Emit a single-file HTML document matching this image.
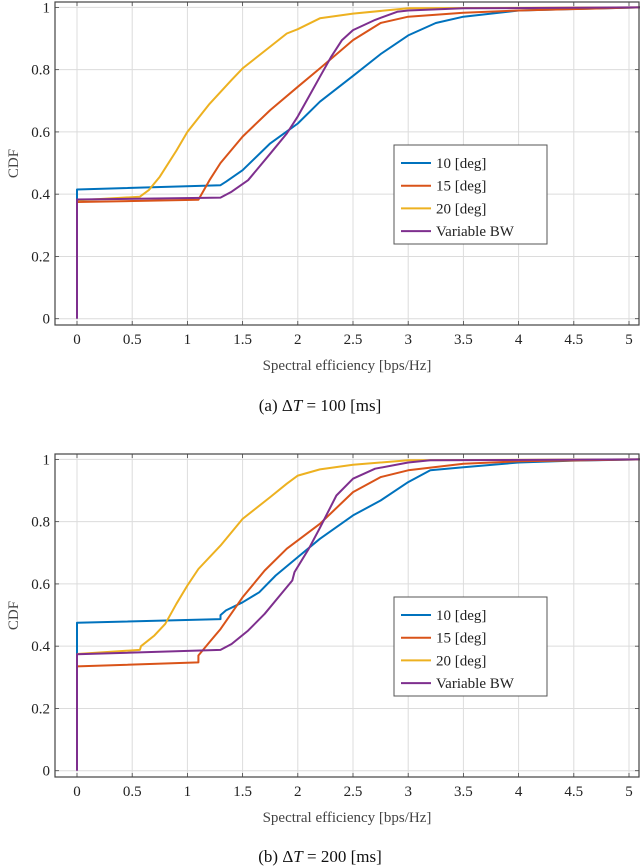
<!DOCTYPE html>
<html><head><meta charset="utf-8"><style>
html,body{margin:0;padding:0;background:#fff;}
svg{display:block;font-family:"Liberation Serif",serif;}
</style></head><body>
<svg id="fig" width="640" height="868" viewBox="0 0 640 868"></svg>
<script>
const xTicks=[0,0.5,1,1.5,2,2.5,3,3.5,4,4.5,5];
const xTickLabels=["0","0.5","1","1.5","2","2.5","3","3.5","4","4.5","5"];
const yTicks=[0,0.2,0.4,0.6,0.8,1];
const yTickLabels=["0","0.2","0.4","0.6","0.8","1"];
const seriesNames=["10 [deg]","15 [deg]","20 [deg]","Variable BW"];
const colors=["#0072BD","#D95319","#EDB120","#7E2F8E"];
// panel a
const a10x=[0,0,1.3,1.35,1.5,1.75,2,2.2,2.5,2.75,3,3.25,3.5,4,4.5,5.1];
const a10y=[0.38,0.415,0.429,0.44,0.477,0.563,0.627,0.697,0.78,0.85,0.91,0.95,0.97,0.99,0.995,1];
const a15x=[0,1.1,1.2,1.3,1.5,1.75,2,2.2,2.5,2.75,3,3.5,4,5.1];
const a15y=[0.375,0.382,0.445,0.5,0.585,0.67,0.745,0.804,0.895,0.95,0.97,0.983,0.99,1];
const a20x=[0,0.57,0.65,0.75,0.9,1,1.2,1.4,1.5,1.75,1.9,2,2.2,2.5,3,5.1];
const a20y=[0.38,0.392,0.413,0.456,0.54,0.6,0.69,0.767,0.804,0.874,0.916,0.93,0.965,0.98,0.997,1];
const aVx=[0,0,1.3,1.4,1.55,1.75,1.9,2,2.1,2.2,2.3,2.4,2.5,2.7,2.9,3,3.5,5.1];
const aVy=[0,0.383,0.389,0.408,0.445,0.53,0.595,0.65,0.713,0.777,0.84,0.895,0.927,0.96,0.986,0.99,0.997,1];
// panel b
const b10x=[0,0,1.3,1.3,1.35,1.5,1.65,1.8,2,2.2,2.5,2.75,3,3.2,3.5,4,4.5,5.1];
const b10y=[0.375,0.475,0.487,0.5,0.515,0.541,0.573,0.627,0.686,0.745,0.82,0.868,0.927,0.965,0.975,0.99,0.996,1];
const b15x=[0,1.1,1.1,1.2,1.3,1.5,1.7,1.9,2.2,2.5,2.75,3,3.5,4,5.1];
const b15y=[0.335,0.348,0.37,0.413,0.455,0.557,0.643,0.713,0.793,0.895,0.943,0.965,0.986,0.994,1];
const b20x=[0,0.57,0.58,0.7,0.8,0.9,1,1.1,1.3,1.5,1.75,1.9,2,2.2,2.5,3,5.1];
const b20y=[0.375,0.388,0.4,0.434,0.472,0.536,0.595,0.648,0.723,0.809,0.879,0.922,0.948,0.968,0.983,0.997,1];
const bVx=[0,0,1.3,1.4,1.55,1.7,1.85,1.95,1.97,2.1,2.2,2.35,2.5,2.7,3,3.2,5.1];
const bVy=[0,0.374,0.388,0.407,0.45,0.504,0.568,0.611,0.638,0.713,0.78,0.884,0.938,0.97,0.99,0.997,1];

const NS="http://www.w3.org/2000/svg";
const svg=document.getElementById('fig');
function mk(tag,attrs,parent){const e=document.createElementNS(NS,tag);for(const k in attrs)e.setAttribute(k,attrs[k]);(parent||svg).appendChild(e);return e;}

function panel(id,top,series,caption){
  const L=55,R=639,T=top,B=top+323;
  const x0=77,xs=110.4,y0=top+316.7,ys=311.3;
  const X=v=>x0+v*xs, Y=v=>y0-v*ys;
  const g=mk('g',{});
  
  
  mk('rect',{x:L,y:T,width:R-L,height:B-T,fill:'#fff'},g);
  xTicks.forEach((t,i)=>{
    const l=mk('line',{x1:X(t),x2:X(t),y1:T,y2:B,stroke:'#dcdcdc','stroke-width':1},g);
    
    
    mk('line',{x1:X(t),x2:X(t),y1:B,y2:B-4,stroke:'#444','stroke-width':0.8},g);
    mk('line',{x1:X(t),x2:X(t),y1:T,y2:T+4,stroke:'#444','stroke-width':0.8},g);
    const tx=mk('text',{x:X(t),y:B+19,'text-anchor':'middle','font-size':15,fill:'#222'},g);
    tx.textContent=xTickLabels[i];
    
    
  });
  yTicks.forEach((t,i)=>{
    const l=mk('line',{x1:L,x2:R,y1:Y(t),y2:Y(t),stroke:'#dcdcdc','stroke-width':1},g);
    
    
    mk('line',{x1:L,x2:L+4,y1:Y(t),y2:Y(t),stroke:'#444','stroke-width':0.8},g);
    mk('line',{x1:R,x2:R-4,y1:Y(t),y2:Y(t),stroke:'#444','stroke-width':0.8},g);
    const ty=mk('text',{x:50,y:Y(t)+5,'text-anchor':'end','font-size':15,fill:'#222'},g);
    ty.textContent=yTickLabels[i];
    
    
  });
  series.forEach((s,i)=>{
    const d=s[0].map((v,j)=>(j?'L':'M')+X(Math.min(v,5.1)).toFixed(1)+' '+Y(s[1][j]).toFixed(1)).join(' ');
    const p=mk('path',{d:d,fill:'none',stroke:colors[i],'stroke-width':2,'stroke-linejoin':'round'},g);
    
    
  });
  const box=mk('rect',{x:L,y:T,width:R-L,height:B-T,fill:'none',stroke:'#444','stroke-width':1.2},g);
  
  
  const yl=mk('text',{x:0,y:0,'text-anchor':'middle','font-size':15,fill:'#444',transform:`translate(18 ${(T+B)/2}) rotate(-90)`},g);
  yl.textContent='CDF';
  
  
  const xl=mk('text',{x:(L+R)/2+0,y:B+45,'text-anchor':'middle','font-size':15,fill:'#444'},g);
  xl.textContent='Spectral efficiency [bps/Hz]';
  
  
  // legend
  const lg=mk('g',{},g);
  
  
  const ly=T+143;
  mk('rect',{x:394,y:ly,width:153,height:99,fill:'#fff',stroke:'#555','stroke-width':1},lg);
  seriesNames.forEach((n,i)=>{
    const yy=ly+18+i*22.7;
    mk('line',{x1:401,x2:431,y1:yy,y2:yy,stroke:colors[i],'stroke-width':2},lg);
    const t=mk('text',{x:436,y:yy+5,'font-size':15,fill:'#222'},lg);
    t.textContent=n;
    
    
  });
  const c=mk('text',{x:320,y:caption[1],'text-anchor':'middle','font-size':17,fill:'#111'},g);
  c.innerHTML=caption[0];
  
  
}
panel('panel-a',2,[[a10x,a10y],[a15x,a15y],[a20x,a20y],[aVx,aVy]],['(a) Δ<tspan font-style="italic">T</tspan> = 100 [ms]',411]);
panel('panel-b',454,[[b10x,b10y],[b15x,b15y],[b20x,b20y],[bVx,bVy]],['(b) Δ<tspan font-style="italic">T</tspan> = 200 [ms]',862]);
</script>
</body></html>
